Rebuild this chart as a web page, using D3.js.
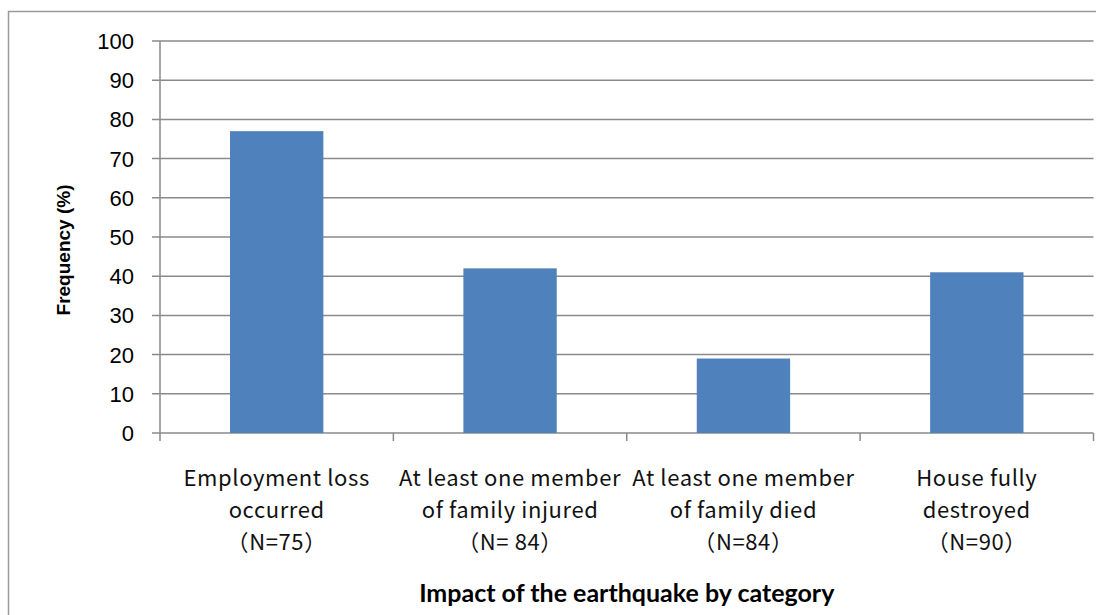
<!DOCTYPE html>
<meta charset='utf-8'>
<style>
  body { margin: 0; background: #fff; }
  .grid line { stroke: #8a8a8a; stroke-width: 1.5; }
  .ytick text { font-family: "Liberation Sans", Arial, sans-serif; font-size: 22px; fill: #000; }
  .cat { font-family: "Noto Sans CJK JP", sans-serif; font-size: 22px; letter-spacing: 0.6px; fill: #111; }
</style>
<svg width="1096" height="615"></svg>
<script src="https://d3js.org/d3.v7.min.js"></script>
<script>

var categories = ["Employment loss occurred", "At least one member of family injured",
                  "At least one member of family died", "House fully destroyed"];
var catLines = [
  ["Employment loss", "occurred", "\uFF08N=75\uFF09"],
  ["At least one member", "of family injured", "\uFF08N= 84\uFF09"],
  ["At least one member", "of family died", "\uFF08N=84\uFF09"],
  ["House fully", "destroyed", "\uFF08N=90\uFF09"]
];
var values = [77, 42, 19, 41];
var yTicks = [0, 10, 20, 30, 40, 50, 60, 70, 80, 90, 100];

var svg = d3.select("svg");

// outer chart frame (runs past the window on the right and bottom)
svg.append("rect")
  .attr("x", 8.5).attr("y", 11.5)
  .attr("width", 1200).attr("height", 700)
  .attr("fill", "none")
  .attr("stroke", "#9a9a9a")
  .attr("stroke-width", 1.5);

var plotL = 160, plotR = 1093.5, plotT = 41, plotB = 433;

var x = d3.scaleBand()
  .domain(categories)
  .range([plotL, plotR])
  .paddingInner(0.6)
  .paddingOuter(0.3);

var y = d3.scaleLinear()
  .domain([0, 100])
  .range([plotB, plotT]);

// gridlines + y ticks
var g = svg.append("g").attr("class", "grid");
g.selectAll("line.h")
  .data(yTicks)
  .enter()
  .append("line")
  .attr("class", "h")
  .attr("x1", plotL - 8).attr("x2", plotR)
  .attr("y1", d => y(d)).attr("y2", d => y(d));

// y axis line
g.append("line")
  .attr("x1", plotL).attr("x2", plotL)
  .attr("y1", plotT).attr("y2", plotB);

// x ticks at category boundaries
var bounds = categories.map(c => x(c) - x.step() * x.paddingInner() / 2);
bounds[0] = plotL;
bounds.push(plotR);
g.selectAll("line.xt")
  .data(bounds)
  .enter()
  .append("line")
  .attr("class", "xt")
  .attr("x1", d => d).attr("x2", d => d)
  .attr("y1", plotB).attr("y2", plotB + 8);

svg.append("g").attr("class", "ytick")
  .selectAll("text")
  .data(yTicks)
  .enter()
  .append("text")
  .attr("x", 134)
  .attr("y", d => y(d) + 8)
  .attr("text-anchor", "end")
  .text(d => d);

// bars
svg.selectAll("rect.bar")
  .data(values)
  .enter()
  .append("rect")
  .attr("class", "bar")
  .attr("x", (d, i) => x(categories[i]))
  .attr("width", x.bandwidth())
  .attr("y", d => y(d))
  .attr("height", d => y(0) - y(d))
  .attr("fill", "#4f81bd");

// category labels
catLines.forEach(function(lines, i) {
  var cx = x(categories[i]) + x.bandwidth() / 2;
  var t = svg.append("text")
    .attr("class", "cat")
    .attr("text-anchor", "middle");
  lines.forEach(function(s, j) {
    t.append("tspan")
      .attr("x", cx)
      .attr("y", 486 + j * 32)
      .text(s);
  });
});

// axis titles
svg.append("text")
  .attr("x", (plotL + plotR) / 2)
  .attr("y", 602)
  .attr("text-anchor", "middle")
  .style("font-family", "Lato, sans-serif")
  .style("font-weight", "bold")
  .style("font-size", "25px")
  .text("Impact of the earthquake by category");

svg.append("text")
  .attr("transform", "translate(70,250) rotate(-90)")
  .attr("text-anchor", "middle")
  .style("font-family", "'Liberation Sans', Arial, sans-serif")
  .style("font-weight", "bold")
  .style("font-size", "19px")
  .text("Frequency (%)");

</script>
